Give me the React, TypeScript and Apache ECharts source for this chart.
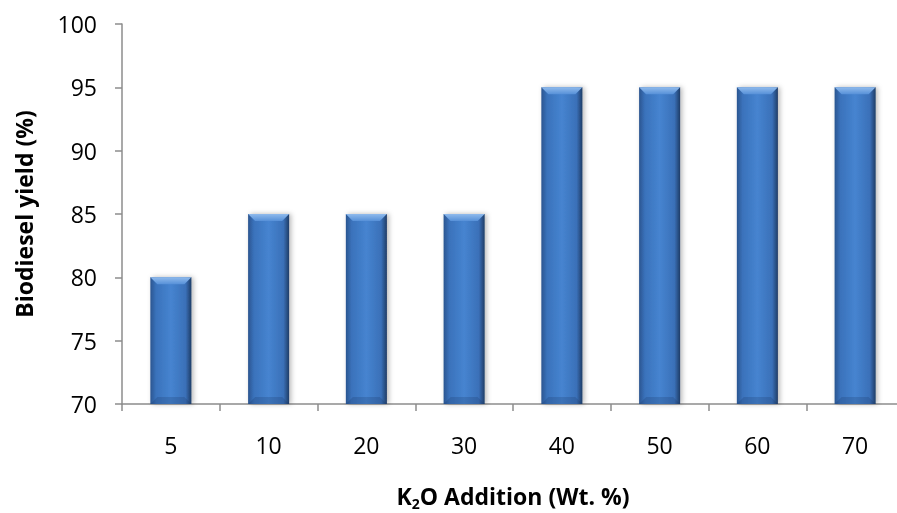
import React, { useEffect, useRef } from "react";
import * as echarts from "echarts";

const categories = ["5", "10", "20", "30", "40", "50", "60", "70"];
const yieldValues = [80, 85, 85, 85, 95, 95, 95, 95];
const yMin = 70;
const yMax = 100;
const yInterval = 5;

export default function App() {
  const ref = useRef<HTMLDivElement>(null);
  useEffect(() => {
    if (!ref.current) return;
    const chart = echarts.init(ref.current, undefined, { renderer: "svg" });
    const font = "'Open Sans', 'Noto Sans', sans-serif";
    const axisGray = "#8c8c8c";
    const renderItem = (params: any, api: any) => {
      const idx = api.value(0);
      const val = api.value(1);
      const top = api.coord([idx, val]);
      const base = api.coord([idx, yMin]);
      const bw = api.size([1, 0])[0] * 0.42;
      const x0 = top[0] - bw / 2;
      const x1 = top[0] + bw / 2;
      const y0 = top[1];
      const y1 = base[1];
      const b = 7;
      return {
        type: "group",
        children: [
          {
            type: "rect",
            shape: { x: x0, y: y0, width: bw, height: y1 - y0 },
            style: {
              fill: new echarts.graphic.LinearGradient(0, 0, 1, 0, [
                { offset: 0, color: "#2a5590" },
                { offset: 0.14, color: "#3a72bb" },
                { offset: 0.5, color: "#4684d0" },
                { offset: 0.86, color: "#3a70b8" },
                { offset: 1, color: "#1f3c66" },
              ]),
              shadowColor: "rgba(0,0,0,0.28)",
              shadowBlur: 5,
              shadowOffsetX: 2,
              shadowOffsetY: 0,
            },
          },
          {
            type: "polygon",
            shape: {
              points: [
                [x0, y0],
                [x1, y0],
                [x1 - b, y0 + b],
                [x0 + b, y0 + b],
              ],
            },
            style: {
              fill: new echarts.graphic.LinearGradient(0, 0, 0, 1, [
                { offset: 0, color: "#8fbaec" },
                { offset: 1, color: "#5690d8" },
              ]),
            },
          },
          {
            type: "polygon",
            shape: {
              points: [
                [x0, y1],
                [x1, y1],
                [x1 - b, y1 - b],
                [x0 + b, y1 - b],
              ],
            },
            style: { fill: "rgba(25,50,95,0.22)" },
          },
        ],
      };
    };
    chart.setOption({
      animation: false,
      grid: { left: 122, top: 24, width: 782, height: 380, outerBoundsMode: "none" },
      xAxis: {
        type: "category",
        data: categories,
        boundaryGap: true,
        axisLine: { show: true, lineStyle: { color: axisGray, width: 1.5 } },
        axisTick: { show: true, length: 7, alignWithLabel: false, lineStyle: { color: axisGray, width: 1.5 } },
        axisLabel: { color: "#000", fontSize: 23, fontFamily: font, margin: 29 },
        name: "{a|K}{s|2}{a|O Addition (Wt. %)}",
        nameLocation: "middle",
        nameGap: 78,
        nameTextStyle: {
          rich: {
            a: { fontSize: 23, fontWeight: "bold", fontFamily: font, color: "#000" },
            s: { fontSize: 14, fontWeight: "bold", fontFamily: font, color: "#000", padding: [14, 0, 0, 0] },
          },
        },
      },
      yAxis: {
        type: "value",
        min: yMin,
        max: yMax,
        interval: yInterval,
        splitLine: { show: false },
        axisLine: { show: true, lineStyle: { color: axisGray, width: 1.5 } },
        axisTick: { show: true, length: 7, lineStyle: { color: axisGray, width: 1.5 } },
        axisLabel: { color: "#000", fontSize: 23, fontFamily: font, margin: 25 },
        name: "Biodiesel yield (%)",
        nameLocation: "middle",
        nameGap: 87,
        nameTextStyle: { fontSize: 23, fontWeight: "bold", fontFamily: font, color: "#000" },
      },
      series: [
        {
          type: "custom",
          renderItem,
          data: yieldValues.map((v, i) => [i, v]),
          encode: { x: 0, y: 1 },
        },
      ],
    });
    return () => chart.dispose();
  }, []);
  return (
    <div
      ref={ref}
      style={{ position: "fixed", left: 0, top: 0, width: 897, height: 513 }}
    />
  );
}
